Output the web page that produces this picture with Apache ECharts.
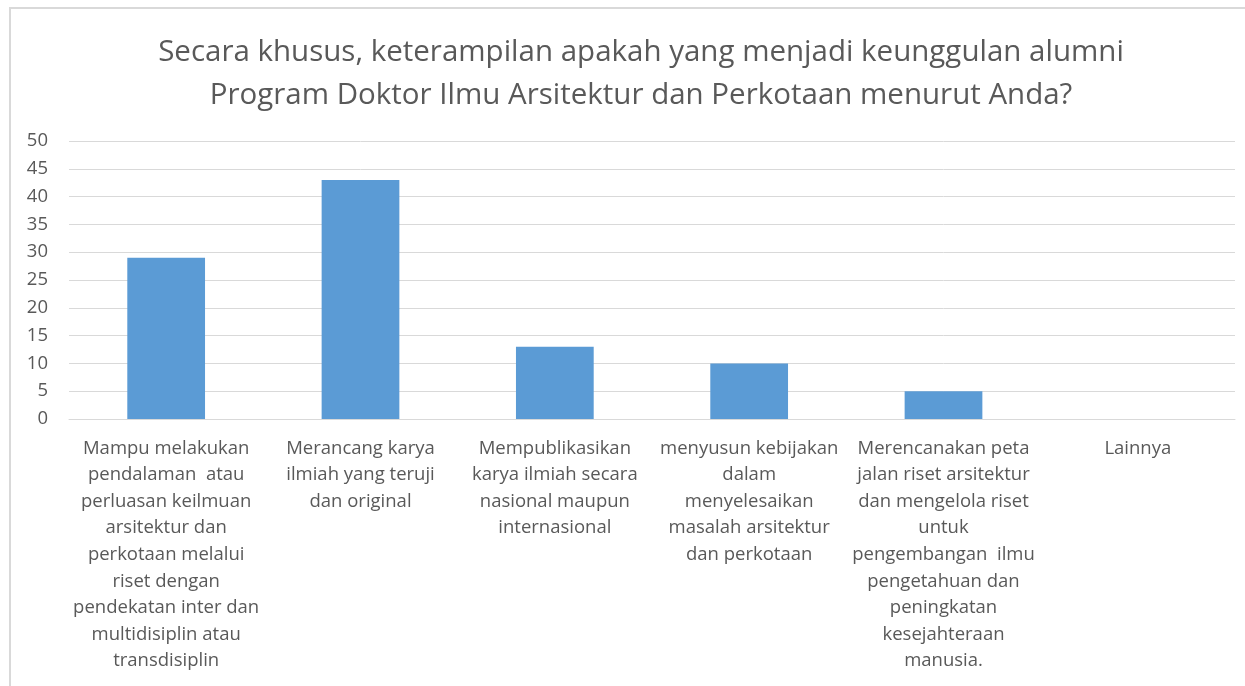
<!DOCTYPE html>
<html>
<head>
<meta charset="utf-8">
<script src="https://cdn.jsdelivr.net/npm/echarts@6/dist/echarts.min.js"></script>
<style>
html,body{margin:0;padding:0;background:#fff;}
#tu_1{width:1245px;height:686px;}
</style>
</head>
<body>
<div id="tu_1"></div>
<script>
var judul = 'Secara khusus, keterampilan apakah yang menjadi keunggulan alumni\nProgram Doktor Ilmu Arsitektur dan Perkotaan menurut Anda?';
// label kategori, baris dipotong seperti di gambar
var kategori = [
	'Mampu melakukan\npendalaman  atau\nperluasan keilmuan\narsitektur dan\nperkotaan melalui\nriset dengan\npendekatan inter dan\nmultidisiplin atau\ntransdisiplin',
	'Merancang karya\nilmiah yang teruji\ndan original',
	'Mempublikasikan\nkarya ilmiah secara\nnasional maupun\ninternasional',
	'menyusun kebijakan\ndalam\nmenyelesaikan\nmasalah arsitektur\ndan perkotaan',
	'Merencanakan peta\njalan riset arsitektur\ndan mengelola riset\nuntuk\npengembangan  ilmu\npengetahuan dan\npeningkatan\nkesejahteraan\nmanusia.',
	'Lainnya'
];
var jumlah = [29, 43, 13, 10, 5, 0];

var huruf = '"Open Sans", sans-serif';
var myChart_1 = echarts.init(document.getElementById('tu_1'));
var option = {
	animation: false,
	title: {
		text: judul,
		left: 636,
		textAlign: 'center',
		top: 26,
		textStyle: {fontFamily: huruf, fontWeight: 'normal', fontSize: 29.5, color: '#595959', lineHeight: 43}
	},
	graphic: [{
		type: 'rect',
		shape: {x: 10, y: 8, width: 1260, height: 700},
		style: {fill: null, stroke: '#d9d9d9', lineWidth: 2},
		silent: true
	}],
	grid: {left: 69, right: 10, top: 141, bottom: 267, containLabel: false},
	xAxis: {
		type: 'category',
		data: kategori,
		axisLine: {show: true, lineStyle: {color: '#d9d9d9', width: 1}},
		axisTick: {show: false},
		axisLabel: {
			interval: 0,
			margin: 16,
			fontFamily: huruf,
			fontSize: 18.5,
			lineHeight: 26.6,
			color: '#595959',
			align: 'center',
			verticalAlign: 'top'
		}
	},
	yAxis: {
		type: 'value',
		min: 0,
		max: 50,
		interval: 5,
		axisLine: {show: false},
		axisTick: {show: false},
		splitLine: {lineStyle: {color: '#d9d9d9', width: 1}},
		axisLabel: {fontFamily: huruf, fontSize: 18.5, color: '#595959', margin: 21}
	},
	series: [{
		type: 'bar',
		data: jumlah,
		barWidth: '40%',
		itemStyle: {color: '#5b9bd5'}
	}]
};
myChart_1.setOption(option);
</script>
</body>
</html>
